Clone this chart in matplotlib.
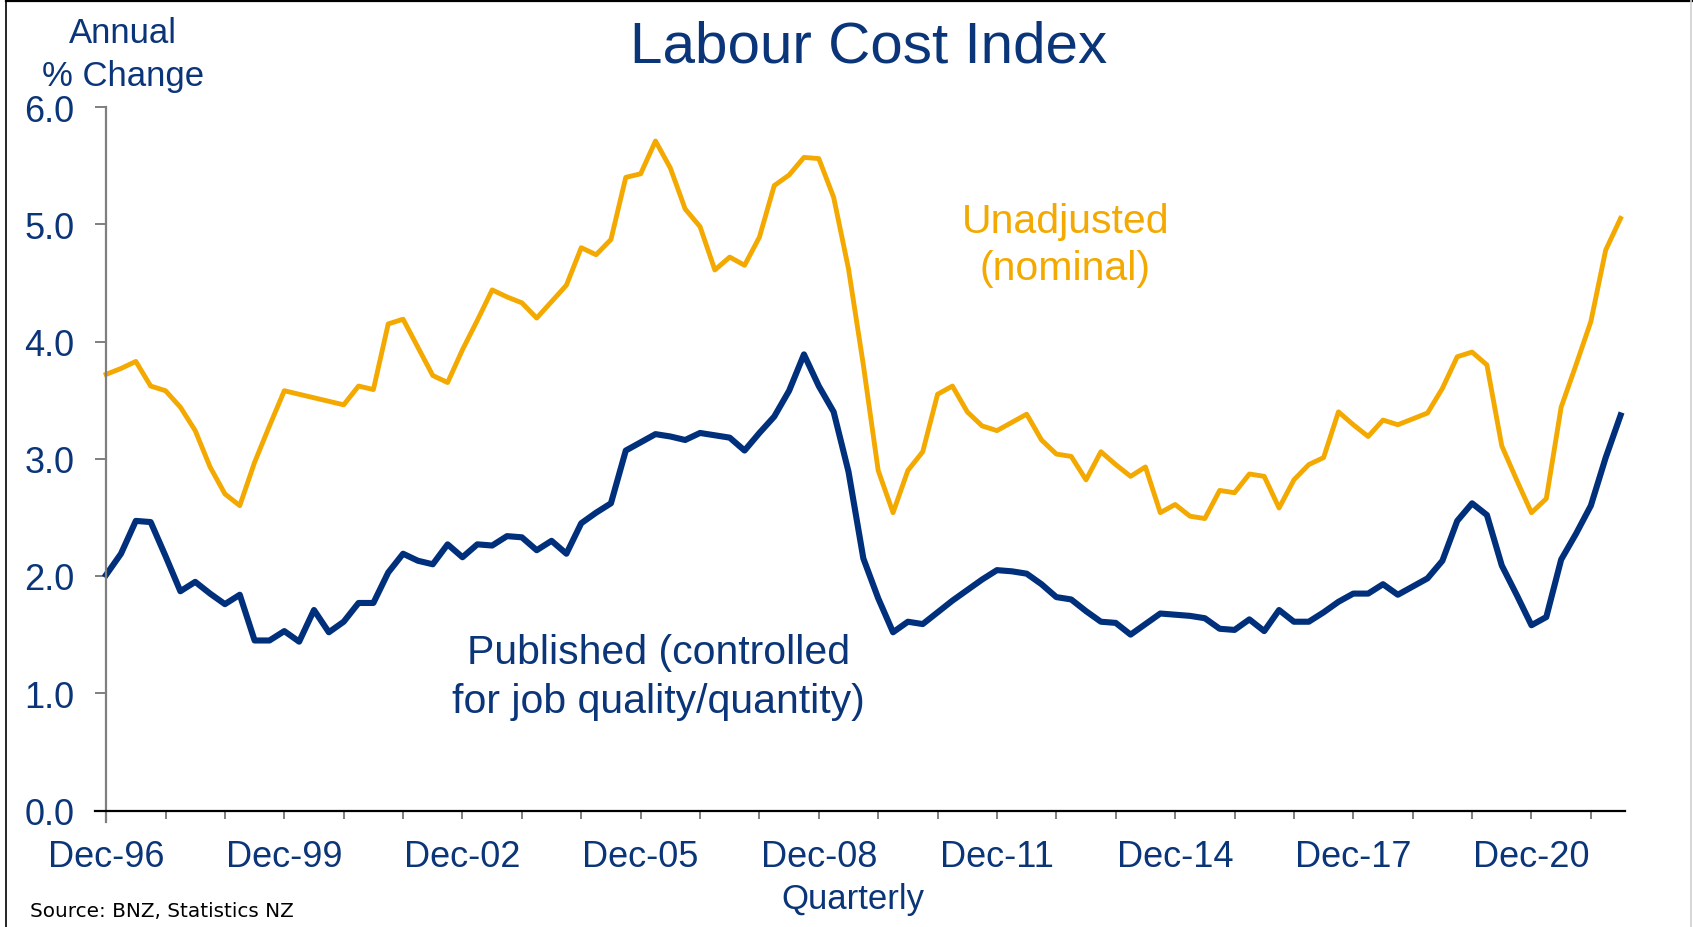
import numpy as np
import matplotlib
matplotlib.use('Agg')
from matplotlib import pyplot as plt
from matplotlib.lines import Line2D

# quarterly, Dec-96 .. Jun-22, annual % change
unadjusted = [3.72, 3.77, 3.83, 3.62, 3.58, 3.44, 3.24, 2.93, 2.70, 2.60,
              2.97, 3.28, 3.58, 3.55, 3.52, 3.49, 3.46, 3.62, 3.59, 4.15,
              4.19, 3.95, 3.71, 3.65, 3.93, 4.18, 4.44, 4.38, 4.33, 4.20,
              4.34, 4.48, 4.80, 4.74, 4.87, 5.40, 5.43, 5.71, 5.48, 5.13,
              4.98, 4.61, 4.72, 4.65, 4.89, 5.33, 5.42, 5.57, 5.56, 5.23,
              4.62, 3.80, 2.90, 2.54, 2.90, 3.06, 3.55, 3.62, 3.40, 3.28,
              3.24, 3.31, 3.38, 3.16, 3.04, 3.02, 2.82, 3.06, 2.95, 2.85,
              2.93, 2.54, 2.61, 2.51, 2.49, 2.73, 2.71, 2.87, 2.85, 2.58,
              2.82, 2.95, 3.01, 3.40, 3.29, 3.19, 3.33, 3.29, 3.34, 3.39,
              3.60, 3.87, 3.91, 3.80, 3.11, 2.82, 2.54, 2.66, 3.44, 3.80,
              4.17, 4.78, 5.05]
published = [2.01, 2.19, 2.47, 2.46, 2.17, 1.87, 1.95, 1.85, 1.76, 1.84,
             1.45, 1.45, 1.53, 1.44, 1.71, 1.52, 1.61, 1.77, 1.77, 2.03,
             2.19, 2.13, 2.10, 2.27, 2.16, 2.27, 2.26, 2.34, 2.33, 2.22,
             2.30, 2.19, 2.45, 2.54, 2.62, 3.07, 3.14, 3.21, 3.19, 3.16,
             3.22, 3.20, 3.18, 3.07, 3.22, 3.36, 3.58, 3.89, 3.62, 3.40,
             2.89, 2.15, 1.81, 1.52, 1.61, 1.59, 1.69, 1.79, 1.88, 1.97,
             2.05, 2.04, 2.02, 1.93, 1.82, 1.80, 1.70, 1.61, 1.60, 1.50,
             1.59, 1.68, 1.67, 1.66, 1.64, 1.55, 1.54, 1.63, 1.53, 1.71,
             1.61, 1.61, 1.69, 1.78, 1.85, 1.85, 1.93, 1.84, 1.91, 1.98,
             2.13, 2.47, 2.62, 2.52, 2.09, 1.84, 1.58, 1.65, 2.14, 2.36,
             2.60, 3.01, 3.37]
tick_labels = ['Dec-96', 'Dec-99', 'Dec-02', 'Dec-05', 'Dec-08',
               'Dec-11', 'Dec-14', 'Dec-17', 'Dec-20']
y_ticks = [0, 1, 2, 3, 4, 5, 6]

navy = '#0B3579'
line_navy = '#00307C'
gold = '#F3A900'
plt.rcParams['font.family'] = ['Liberation Sans', 'DejaVu Sans']

x = np.arange(len(unadjusted))

fig = plt.figure(figsize=(16.93, 9.28), dpi=100)
ax = fig.add_axes([95 / 1693, 1 - 811.5 / 928, 1530 / 1693, 703.5 / 928])

ax.plot(x, unadjusted, color=gold, lw=3.5, solid_joinstyle='round')
ax.plot(x, published, color=line_navy, lw=4.4, solid_joinstyle='round')

ax.set_xlim(-0.75, 102.3)
ax.set_ylim(0, 6)

ax.spines['top'].set_visible(False)
ax.spines['right'].set_visible(False)
ax.spines['left'].set_position(('data', 0))
ax.spines['left'].set_color('#7F7F7F')
ax.spines['left'].set_linewidth(1.6)
ax.spines['left'].set_bounds(-11 / 117.25, 6)
ax.spines['bottom'].set_color('#000000')
ax.spines['bottom'].set_linewidth(1.6)

ax.set_yticks(y_ticks)
ax.set_yticklabels(['%.1f' % v for v in y_ticks])
ax.set_xticks(np.arange(0, len(x), 4), minor=True)
ax.set_xticks(np.arange(0, 12 * len(tick_labels), 12))
ax.set_xticklabels(tick_labels)

ax.tick_params(axis='y', direction='out', length=8, width=1.4, color='#7F7F7F',
               labelsize=26, labelcolor=navy, pad=15)
ax.tick_params(axis='x', which='both', direction='out', length=5.8, width=1.4,
               color='#7F7F7F', labelsize=26, labelcolor=navy, pad=14.5)

# line labels
ax.text(64.6, 4.93, 'Unadjusted', color=gold, fontsize=29.5, ha='center', va='baseline')
ax.text(64.6, 4.53, '(nominal)', color=gold, fontsize=29.5, ha='center', va='baseline')
ax.text(37.2, 1.26, 'Published (controlled', color=navy, fontsize=29.5, ha='center', va='baseline')
ax.text(37.2, 0.84, 'for job quality/quantity)', color=navy, fontsize=29.5, ha='center', va='baseline')

fig.text(869 / 1693, 1 - 62.5 / 928, 'Labour Cost Index', color=navy, fontsize=42,
         ha='center', va='baseline')
fig.text(123 / 1693, 1 - 43 / 928, 'Annual', color=navy, fontsize=25, ha='center', va='baseline')
fig.text(123 / 1693, 1 - 86 / 928, '% Change', color=navy, fontsize=25, ha='center', va='baseline')
fig.text(853 / 1693, 1 - 909 / 928, 'Quarterly', color=navy, fontsize=25, ha='center', va='baseline')
fig.text(30 / 1693, 1 - 917 / 928, 'Source: BNZ, Statistics NZ', color='black', fontsize=14.4,
         family=['DejaVu Sans'], ha='left', va='baseline')

# slide border
fig.add_artist(Line2D([6 / 1693, 6 / 1693], [0, 1], color='black', lw=1.2))
fig.add_artist(Line2D([6 / 1693, 1], [1 - 1.5 / 928, 1 - 1.5 / 928], color='black', lw=1.6))
fig.add_artist(Line2D([1691 / 1693, 1691 / 1693], [0, 1], color='#D0D0D0', lw=1.2))

fig.savefig('out.png', dpi=100)
